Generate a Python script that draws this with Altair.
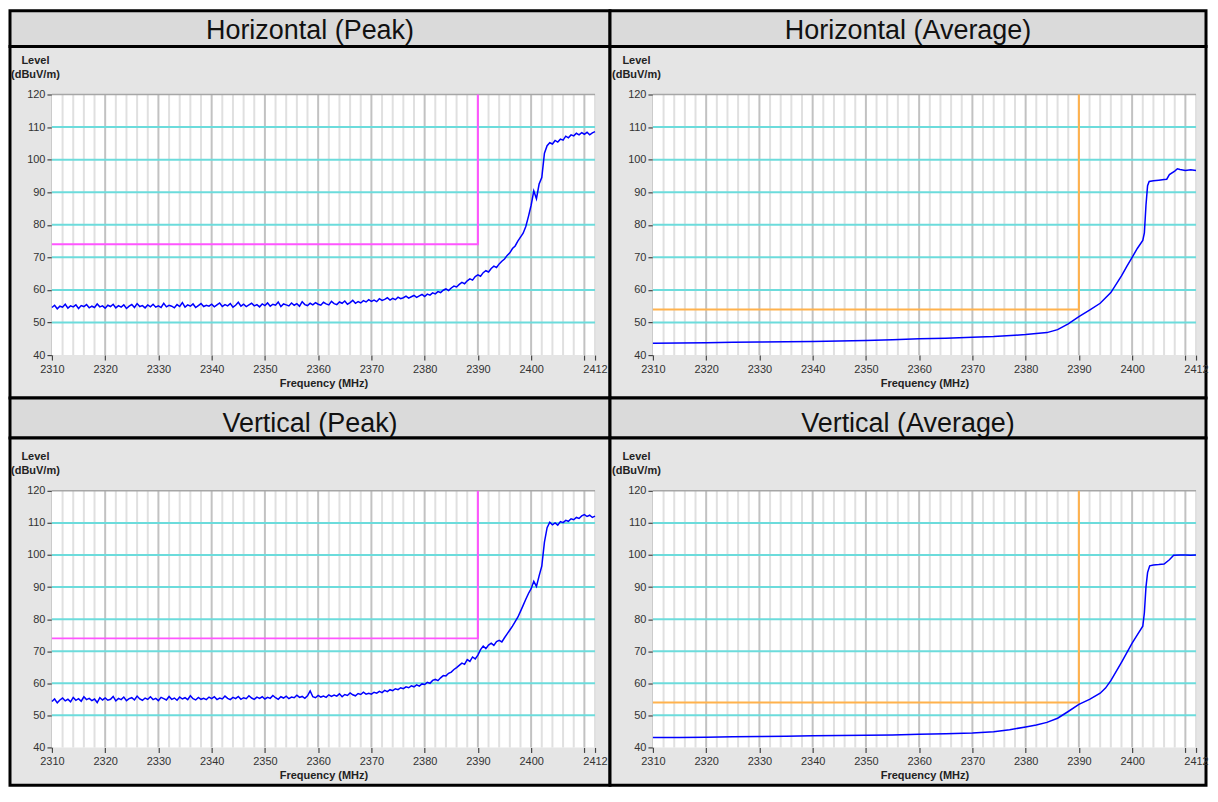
import altair as alt
import pandas as pd

# ---------------- data ----------------
X_DOMAIN = [2310, 2412]
Y_DOMAIN = [40, 120]
X_TICKS = [2310, 2320, 2330, 2340, 2350, 2360, 2370, 2380, 2390, 2400, 2410, 2412]
Y_TICKS = [40, 50, 60, 70, 80, 90, 100, 110, 120]
H_GRID = [50, 60, 70, 80, 90, 100, 110]
V_GRID_MAJOR = [2320, 2330, 2340, 2350, 2360, 2370, 2380, 2390, 2400, 2410]
V_GRID_MINOR = [f for f in range(2312, 2413, 2) if f not in V_GRID_MAJOR]
TITLES = ["Horizontal (Peak)", "Horizontal (Average)", "Vertical (Peak)", "Vertical (Average)"]
PEAK_LIMIT = 74
AVG_LIMIT = 54
LIMIT_EDGE = 2390

FREQ_START = 2310.0
FREQ_STEP = 0.5

h_peak = [
    54.6, 55.3, 54.2, 55.0, 54.7, 55.6, 54.4, 55.1, 54.8, 55.4, 54.3, 55.2, 54.9, 55.5, 54.5, 55.0, 54.6, 55.7, 54.8, 55.1,
    54.4, 55.3, 54.9, 55.6, 54.5, 55.2, 54.7, 55.4, 54.3, 55.0, 55.5, 54.6, 55.8, 54.9, 55.2, 54.5, 55.4, 54.8, 55.6, 54.7,
    55.1, 54.6, 55.9, 54.8, 55.3, 55.0, 54.5, 55.5, 54.9, 56.1, 54.7, 55.4, 55.0, 55.7, 54.6, 55.2, 55.8, 54.9, 55.3, 55.0,
    55.6, 54.8, 55.4, 56.0, 54.9, 55.5, 55.1, 55.8, 54.7, 55.3, 56.2, 55.0, 55.6, 54.9, 55.4, 55.9, 55.1, 55.5, 54.8, 55.7,
    55.2, 56.0, 55.0, 55.6, 55.3, 56.3, 54.9, 55.7, 55.4, 55.1, 56.0, 55.3, 55.8, 55.0, 56.4, 55.5, 55.2, 55.9, 55.4, 56.1,
    55.6, 55.3, 56.2, 55.7, 55.4, 56.5, 55.8, 55.5, 56.3, 55.9, 56.6, 55.6, 56.1, 56.8, 55.9, 56.4, 56.0, 56.7, 56.3, 57.0,
    56.5, 56.9, 56.4, 57.3, 56.8, 57.1, 57.6, 56.9, 57.4, 57.0, 57.8, 57.3, 57.6, 58.1, 57.5, 57.9, 58.3, 57.7, 58.2, 58.6,
    58.0, 58.7, 58.4, 59.1, 58.8, 59.5, 59.2, 59.9, 60.3, 59.8, 60.6, 61.2, 60.9, 61.7, 62.3, 61.9, 62.8, 63.4, 63.0, 64.1,
    64.6, 64.2, 65.3, 65.9, 65.5, 66.6, 67.3, 66.9, 68.0, 68.8, 69.5, 70.6, 71.4, 72.7, 73.5, 75.0, 76.2, 77.4, 79.5, 82.6,
    86.0, 90.4, 88.0, 92.5, 94.5, 102.0, 104.3, 105.2, 104.8, 105.9, 105.4, 106.3, 106.0, 107.2, 106.7, 107.6, 107.3, 108.1, 107.6, 108.3,
    107.8, 108.4, 107.6, 108.2, 108.6,
]

v_peak = [
    54.3, 55.1, 53.9, 54.8, 55.4, 54.5, 55.0, 54.2, 55.6, 54.7, 55.2, 54.4, 55.8, 54.9, 55.3, 54.6, 55.1, 54.0, 55.5, 54.8,
    55.4, 54.7, 55.0, 55.9, 54.5, 55.3, 54.9, 55.7, 54.6, 55.2, 55.5, 54.8, 56.0, 55.1, 54.7, 55.4, 55.0, 55.8, 54.9, 55.3,
    54.6, 55.6, 55.2, 54.8, 55.9, 55.0, 55.4, 54.7, 55.7, 55.1, 55.5, 54.9, 56.1, 55.2, 54.8, 55.6, 55.0, 55.3, 54.9, 55.7,
    55.2, 55.8, 54.9, 55.4, 55.1, 56.0, 55.3, 54.9, 55.6, 55.2, 55.9, 55.0, 55.5, 55.2, 56.1, 55.4, 55.0, 55.7, 55.3, 55.8,
    55.1, 55.6, 55.3, 56.2, 55.5, 55.0, 55.8, 55.4, 56.0, 55.2, 55.7, 55.5, 56.3, 55.6, 55.9, 55.3, 56.1, 57.6, 55.8, 55.5,
    56.2, 55.7, 56.0, 55.6, 56.4, 55.9, 56.3, 56.0, 56.7, 55.8, 56.5, 56.2, 57.0, 56.4, 56.1, 56.8, 56.5, 57.2, 56.6, 56.9,
    56.6, 57.2, 56.9, 57.5, 57.1, 57.8, 57.4, 58.0, 57.7, 58.3, 58.0, 58.6, 58.3, 58.9, 58.6, 59.2, 58.9, 59.5, 59.1, 59.8,
    59.6, 60.3, 60.0, 60.9, 61.2, 60.8, 61.7, 62.4, 62.3, 63.1, 63.5, 64.3, 64.9, 65.6, 66.3, 65.9, 67.4, 66.8, 68.2, 67.6,
    68.8, 70.5, 71.6, 70.8, 71.9, 72.5, 71.8, 73.0, 73.4, 72.9, 74.2, 75.4, 76.6, 77.8, 79.2, 80.6, 82.4, 84.3, 86.2, 88.0,
    89.5, 91.8, 90.2, 93.5, 96.5, 104.0, 108.5, 110.2, 109.4, 110.0, 109.3, 110.4, 110.1, 110.8, 110.5, 111.3, 111.0, 111.7, 111.4, 112.2,
    112.6, 112.0, 112.4, 111.7, 112.1,
]

h_avg_freq = [2310, 2315, 2320, 2325, 2330, 2335, 2340, 2345, 2350, 2355, 2360, 2365, 2370, 2374, 2378, 2380,
              2382, 2384, 2386, 2388, 2390, 2392, 2394, 2396, 2398, 2399, 2400, 2401, 2402, 2402.3, 2402.6,
              2402.9, 2403.2, 2404, 2405, 2406, 2406.5, 2407, 2408, 2408.5, 2409, 2410, 2411, 2412]
h_avg = [43.6, 43.7, 43.8, 43.9, 44.0, 44.1, 44.2, 44.3, 44.5, 44.7, 45.0, 45.2, 45.5, 45.7, 46.1, 46.3,
         46.6, 46.9, 47.8, 49.6, 51.8, 53.8, 55.9, 59.2, 64.3, 67.2, 70.0, 72.8, 75.2, 77.5, 86.0,
         92.0, 93.3, 93.5, 93.7, 93.9, 94.0, 95.4, 96.5, 97.2, 97.0, 96.7, 96.9, 96.7]

v_avg_freq = [2310, 2315, 2320, 2325, 2330, 2335, 2340, 2345, 2350, 2355, 2360, 2365, 2370, 2374, 2377, 2380,
              2382, 2384, 2386, 2388, 2390, 2392, 2394, 2395, 2396, 2398, 2400, 2401, 2402, 2402.3, 2402.6,
              2402.9, 2403.3, 2404, 2405, 2406, 2407, 2407.8, 2409, 2410, 2411, 2412]
v_avg = [43.1, 43.1, 43.2, 43.3, 43.4, 43.5, 43.6, 43.7, 43.8, 43.9, 44.1, 44.3, 44.5, 44.9, 45.5, 46.4,
         47.0, 47.8, 49.1, 51.2, 53.4, 55.0, 56.9, 58.5, 60.8, 66.5, 72.5, 75.2, 77.8, 82.0, 90.0,
         94.5, 96.6, 96.9, 97.0, 97.2, 98.5, 99.9, 100.0, 100.0, 99.9, 100.0]

peak_freq = [FREQ_START + FREQ_STEP * i for i in range(len(h_peak))]

FONT = "Liberation Sans"


def panel(freqs, levels, limit, lcolor, W, H, x0, x1, ytop, ybot):
    xs = alt.Scale(domain=X_DOMAIN, range=[x0, x1], nice=False, zero=False)
    ys = alt.Scale(domain=Y_DOMAIN, range=[ybot, ytop], nice=False, zero=False)
    xaxis = alt.Axis(
        values=X_TICKS, format="d", labelExpr="datum.value == 2410 ? '' : datum.label",
        title="Frequency (MHz)", grid=False, domain=False, ticks=True, tickSize=5,
        tickColor="#444444", tickWidth=1.2, labelFont=FONT, labelFontSize=11, labelColor="#333333",
        titleFont=FONT, titleFontSize=11, titleFontWeight="bold", titleColor="#222222",
        labelPadding=3, titlePadding=3, offset=ybot - H, labelFlush=False, labelOverlap=False)
    yaxis = alt.Axis(
        values=Y_TICKS, grid=False, domain=True, domainColor="#8a8a8a", domainWidth=1.5,
        tickSize=5, tickColor="#444444", tickWidth=1.2, labelFont=FONT, labelFontSize=11,
        labelColor="#333333", labelPadding=2, labelFlush=False, labelOverlap=False,
        title=["Level", "(dBuV/m)"], titleAngle=0, titleAlign="center", titleBaseline="top",
        titleX=-17, titleY=ytop - 40, titleFont=FONT, titleFontSize=11, titleFontWeight="bold",
        titleColor="#222222", titleLineHeight=14, offset=-x0)

    def ax(field):
        return alt.X(field, scale=xs, axis=xaxis)

    def ay(field):
        return alt.Y(field, scale=ys, axis=yaxis)

    area = alt.Chart(pd.DataFrame({"x": [X_DOMAIN[0]], "x2": [X_DOMAIN[1]],
                                   "y": [Y_DOMAIN[0]], "y2": [Y_DOMAIN[1]]})).mark_rect(
        fill="white").encode(x=ax("x:Q"), x2="x2", y=ay("y:Q"), y2="y2")

    vminor = alt.Chart(pd.DataFrame({"x": V_GRID_MINOR, "y": Y_DOMAIN[0], "y2": Y_DOMAIN[1]})).mark_rule(
        color="#e0e0e0", strokeWidth=2).encode(x=ax("x:Q"), y=ay("y:Q"), y2="y2")
    vmajor = alt.Chart(pd.DataFrame({"x": V_GRID_MAJOR, "y": Y_DOMAIN[0], "y2": Y_DOMAIN[1]})).mark_rule(
        color="#c2c2c2", strokeWidth=2).encode(x=ax("x:Q"), y=ay("y:Q"), y2="y2")
    hgrid = alt.Chart(pd.DataFrame({"y": H_GRID, "x": X_DOMAIN[0], "x2": X_DOMAIN[1]})).mark_rule(
        color="#6cdcdc", strokeWidth=2).encode(y=ay("y:Q"), x=ax("x:Q"), x2="x2")
    top = alt.Chart(pd.DataFrame({"y": [Y_DOMAIN[1]], "x": X_DOMAIN[0], "x2": X_DOMAIN[1]})).mark_rule(
        color="#a6a6a6", strokeWidth=1.5).encode(y=ay("y:Q"), x=ax("x:Q"), x2="x2")

    lim = alt.Chart(pd.DataFrame({"x": [X_DOMAIN[0], LIMIT_EDGE, LIMIT_EDGE],
                                  "y": [limit, limit, Y_DOMAIN[1]], "o": [0, 1, 2]})).mark_line(
        color=lcolor, strokeWidth=2).encode(x=ax("x:Q"), y=ay("y:Q"), order="o:Q")

    trace = alt.Chart(pd.DataFrame({"x": freqs, "y": levels})).mark_line(
        color="#0000ff", strokeWidth=1.5).encode(x=ax("x:Q"), y=ay("y:Q"), order="x:Q")

    return alt.layer(area, vminor, vmajor, hgrid, top, lim, trace).properties(
        width=W, height=H,
        view=alt.ViewBackground(fill="#e5e5e5", stroke="black", strokeWidth=3))


def title_bar(text, W, H, ty):
    return alt.Chart(pd.DataFrame({"t": [text]})).mark_text(
        font=FONT, fontSize=27, color="#111111", align="center", baseline="middle").encode(
        text="t:N", x=alt.value(W / 2), y=alt.value(ty)).properties(
        width=W, height=H,
        view=alt.ViewBackground(fill="#dadada", stroke="black", strokeWidth=3))


WL, WR = 601, 597
T1, P1, T2, P2 = 36, 352, 40, 348

cells = [
    title_bar(TITLES[0], WL, T1, 20),
    title_bar(TITLES[1], WR, T1, 20),
    panel(peak_freq, h_peak, PEAK_LIMIT, "#ff55ff", WL, P1, 42, 586, 48, 309),
    panel(h_avg_freq, h_avg, AVG_LIMIT, "#ffb24d", WR, P1, 43, 587, 48, 309),
    title_bar(TITLES[2], WL, T2, 26),
    title_bar(TITLES[3], WR, T2, 26),
    panel(peak_freq, v_peak, PEAK_LIMIT, "#ff55ff", WL, P2, 42, 586, 53, 310),
    panel(v_avg_freq, v_avg, AVG_LIMIT, "#ffb24d", WR, P2, 43, 587, 53, 310),
]

chart = alt.concat(*cells, columns=2, spacing=0, bounds="flush").properties(
    padding=0, background="white")

chart.save("out.html", embed_options={"renderer": "svg", "actions": False})
